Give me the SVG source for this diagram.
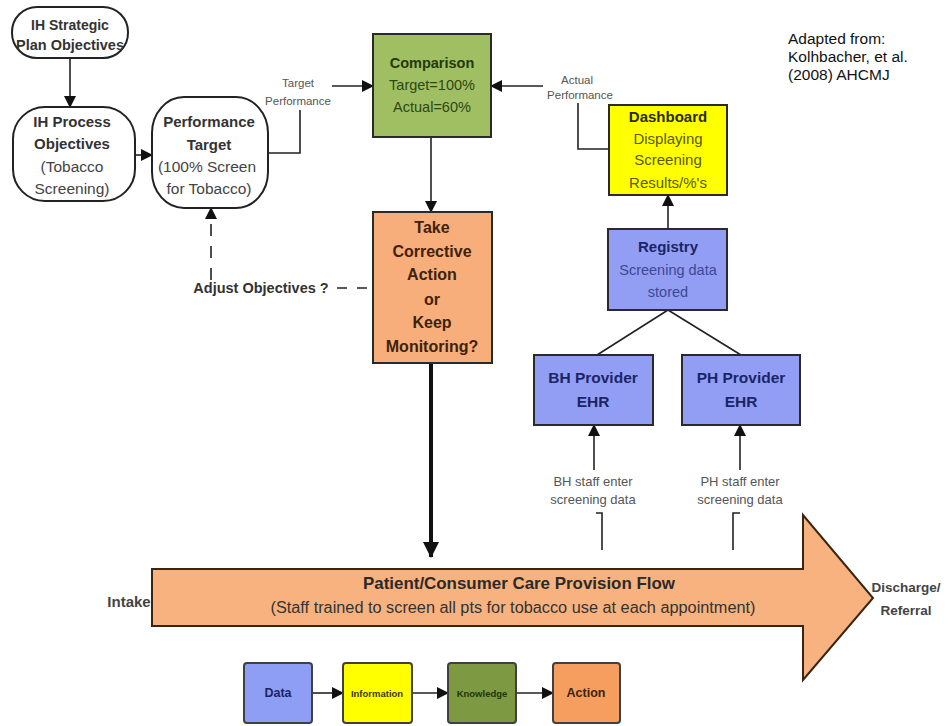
<svg xmlns="http://www.w3.org/2000/svg" width="949" height="726" viewBox="0 0 949 726">
<style>
text{font-family:"Liberation Sans",Arial,sans-serif;text-anchor:middle}
.b{font-weight:bold}
.rnd{fill:#fff;stroke:#222;stroke-width:2}
.box{stroke:#2a2a2a;stroke-width:2}
.ln{fill:none;stroke:#222;stroke-width:1.6}
.lbl{fill:#555;font-size:11.5px}
.gray{fill:#333}
</style>
<defs>
<marker id="ah" markerUnits="userSpaceOnUse" markerWidth="12" markerHeight="12" refX="11" refY="6" orient="auto">
<path d="M0,0 L12,6 L0,12 Z" fill="#111"/>
</marker>
<marker id="ahb" markerUnits="userSpaceOnUse" markerWidth="16" markerHeight="16" refX="15" refY="8" orient="auto">
<path d="M0,0 L16,8 L0,16 Z" fill="#111"/>
</marker>
</defs>
<rect width="949" height="726" fill="#fff"/>

<g id="connectors">
<line class="ln" x1="70" y1="58" x2="70" y2="107" marker-end="url(#ah)"/>
<line class="ln" x1="135" y1="155" x2="152" y2="155" marker-end="url(#ah)"/>
<polyline class="ln" points="268,153 300,153 300,110"/>
<line class="ln" x1="332" y1="86" x2="373" y2="86" marker-end="url(#ah)"/>
<line class="ln" x1="543" y1="86" x2="491" y2="86" marker-end="url(#ah)"/>
<polyline class="ln" points="578,103 578,149 609,149"/>
<line class="ln" x1="431" y1="137" x2="431" y2="212" marker-end="url(#ah)"/>
<line x1="431" y1="363" x2="431" y2="557" stroke="#111" stroke-width="4" marker-end="url(#ahb)"/>
<line class="ln" x1="211" y1="280" x2="211" y2="208" stroke-dasharray="12,10" marker-end="url(#ah)"/>
<line class="ln" x1="337" y1="288" x2="373" y2="288" stroke-dasharray="10,10"/>
<line class="ln" x1="668" y1="229" x2="668" y2="195" marker-end="url(#ah)"/>
<line class="ln" x1="668" y1="310" x2="597" y2="355"/>
<line class="ln" x1="668" y1="310" x2="741" y2="355"/>
<line class="ln" x1="594" y1="470" x2="594" y2="425" marker-end="url(#ah)"/>
<line class="ln" x1="740" y1="470" x2="740" y2="425" marker-end="url(#ah)"/>
<polyline class="ln" points="596,513 602,513 602,550"/>
<polyline class="ln" points="740,513 733,513 733,550"/>
<line class="ln" x1="312" y1="693" x2="343" y2="693" stroke-width="2.5" marker-end="url(#ah)"/>
<line class="ln" x1="412" y1="693" x2="448" y2="693" stroke-width="2.5" marker-end="url(#ah)"/>
<line class="ln" x1="516" y1="693" x2="553" y2="693" stroke-width="2.5" marker-end="url(#ah)"/>
</g>

<g id="strategic">
<rect class="rnd" x="12" y="7" width="116" height="51" rx="25" ry="25"/>
<text class="b gray" x="70" y="30" font-size="14">IH Strategic</text>
<text class="b gray" x="70" y="50" font-size="14.5">Plan Objectives</text>
</g>

<g id="process">
<rect class="rnd" x="13" y="107" width="122" height="94" rx="32" ry="32"/>
<text class="b gray" x="72" y="127" font-size="15">IH Process</text>
<text class="b gray" x="72" y="149" font-size="15">Objectives</text>
<text fill="#444" x="72" y="172" font-size="15.5">(Tobacco</text>
<text fill="#444" x="72" y="194" font-size="15.5">Screening)</text>
</g>

<g id="perftarget">
<rect class="rnd" x="152" y="97" width="116" height="111" rx="32" ry="36"/>
<text class="b gray" x="209" y="127" font-size="15">Performance</text>
<text class="b gray" x="209" y="150" font-size="15">Target</text>
<text fill="#444" x="207" y="172" font-size="15.5">(100% Screen</text>
<text fill="#444" x="209" y="194" font-size="15.5">for Tobacco)</text>
</g>

<g id="target-label">
<text class="lbl" x="298" y="87">Target</text>
<text class="lbl" x="298" y="105">Performance</text>
</g>

<g id="comparison">
<rect class="box" x="373" y="34" width="118" height="103" fill="#a0bf62"/>
<text class="b" fill="#23390c" x="432" y="68" font-size="14.5">Comparison</text>
<text fill="#2d4712" x="432" y="90" font-size="14.5">Target=100%</text>
<text fill="#2d4712" x="432" y="112" font-size="14.5">Actual=60%</text>
</g>

<g id="actual-label">
<text class="lbl" x="577" y="84">Actual</text>
<text class="lbl" x="580" y="99">Performance</text>
</g>

<g id="dashboard">
<rect class="box" x="609" y="105" width="118" height="90" fill="#ffff00"/>
<text class="b" fill="#2a2a00" x="668" y="122" font-size="15">Dashboard</text>
<text fill="#5a5a00" x="668" y="144" font-size="15">Displaying</text>
<text fill="#5a5a00" x="668" y="165" font-size="15">Screening</text>
<text fill="#5a5a00" x="668" y="188" font-size="15">Results/%'s</text>
</g>

<g id="corrective">
<rect class="box" x="373" y="212" width="119" height="151" fill="#f8ae7a" stroke="#3a2412"/>
<text class="b" fill="#3d220c" x="432" y="233" font-size="16">Take</text>
<text class="b" fill="#3d220c" x="432" y="257" font-size="16">Corrective</text>
<text class="b" fill="#3d220c" x="432" y="280" font-size="16">Action</text>
<text class="b" fill="#3d220c" x="432" y="305" font-size="16">or</text>
<text class="b" fill="#3d220c" x="432" y="328" font-size="16">Keep</text>
<text class="b" fill="#3d220c" x="432" y="352" font-size="16">Monitoring?</text>
</g>

<g id="adjust">
<text class="b gray" x="261" y="293" font-size="14.5">Adjust Objectives ?</text>
</g>

<g id="registry">
<rect class="box" x="608" y="229" width="119" height="81" fill="#929ef3"/>
<text class="b" fill="#1b2566" x="668" y="252" font-size="15">Registry</text>
<text fill="#3c4894" x="668" y="275" font-size="14.5">Screening data</text>
<text fill="#3c4894" x="668" y="297" font-size="14.5">stored</text>
</g>

<g id="bh-ehr">
<rect class="box" x="534" y="355" width="119" height="70" fill="#929ef3"/>
<text class="b" fill="#1b2566" x="593" y="383" font-size="15.5">BH Provider</text>
<text class="b" fill="#1b2566" x="593" y="407" font-size="15.5">EHR</text>
</g>

<g id="ph-ehr">
<rect class="box" x="682" y="355" width="118" height="70" fill="#929ef3"/>
<text class="b" fill="#1b2566" x="741" y="383" font-size="15.5">PH Provider</text>
<text class="b" fill="#1b2566" x="741" y="407" font-size="15.5">EHR</text>
</g>

<g id="bh-staff">
<text fill="#555" x="593" y="486" font-size="13">BH staff enter</text>
<text fill="#555" x="593" y="504" font-size="13">screening data</text>
</g>

<g id="ph-staff">
<text fill="#555" x="740" y="486" font-size="13">PH staff enter</text>
<text fill="#555" x="740" y="504" font-size="13">screening data</text>
</g>

<g id="flow">
<path d="M152,569 L803,569 L803,515 L873,598 L803,680 L803,626 L152,626 Z" fill="#f8b27f" stroke="#3a2412" stroke-width="2"/>
<text class="b" fill="#2a2a2a" x="519" y="589" font-size="16.5" textLength="312" lengthAdjust="spacingAndGlyphs">Patient/Consumer Care Provision Flow</text>
<text fill="#333" x="513" y="613" font-size="16" textLength="485" lengthAdjust="spacingAndGlyphs">(Staff trained to screen all pts for tobacco use at each appointment)</text>
</g>

<g id="intake">
<text class="b" fill="#444" x="129" y="607" font-size="15">Intake</text>
</g>

<g id="discharge">
<text class="b" fill="#444" x="906" y="592" font-size="13.5">Discharge/</text>
<text class="b" fill="#444" x="906" y="615" font-size="13.5">Referral</text>
</g>

<g id="citation">
<text x="788" y="44" font-size="15.5" fill="#111" style="text-anchor:start">Adapted from:</text>
<text x="788" y="62" font-size="15.5" fill="#111" style="text-anchor:start">Kolhbacher, et al.</text>
<text x="788" y="80" font-size="15.5" fill="#111" style="text-anchor:start">(2008) AHCMJ</text>
</g>

<g id="legend-data">
<rect x="244" y="663" width="68" height="60" rx="3" fill="#8f9ef5" stroke="#404040" stroke-width="2"/>
<text class="b" fill="#1b2566" x="278" y="697" font-size="12.5">Data</text>
</g>
<g id="legend-information">
<rect x="343" y="663" width="69" height="60" rx="3" fill="#ffff00" stroke="#404040" stroke-width="2"/>
<text class="b" fill="#3a3a00" x="377" y="697" font-size="9.5">Information</text>
</g>
<g id="legend-knowledge">
<rect x="448" y="663" width="68" height="60" rx="3" fill="#7d9a42" stroke="#404040" stroke-width="2"/>
<text class="b" fill="#1f340a" x="482" y="697" font-size="9.5">Knowledge</text>
</g>
<g id="legend-action">
<rect x="553" y="663" width="67" height="60" rx="3" fill="#f59e5f" stroke="#404040" stroke-width="2"/>
<text class="b" fill="#3d220c" x="586" y="697" font-size="12.5">Action</text>
</g>
</svg>
